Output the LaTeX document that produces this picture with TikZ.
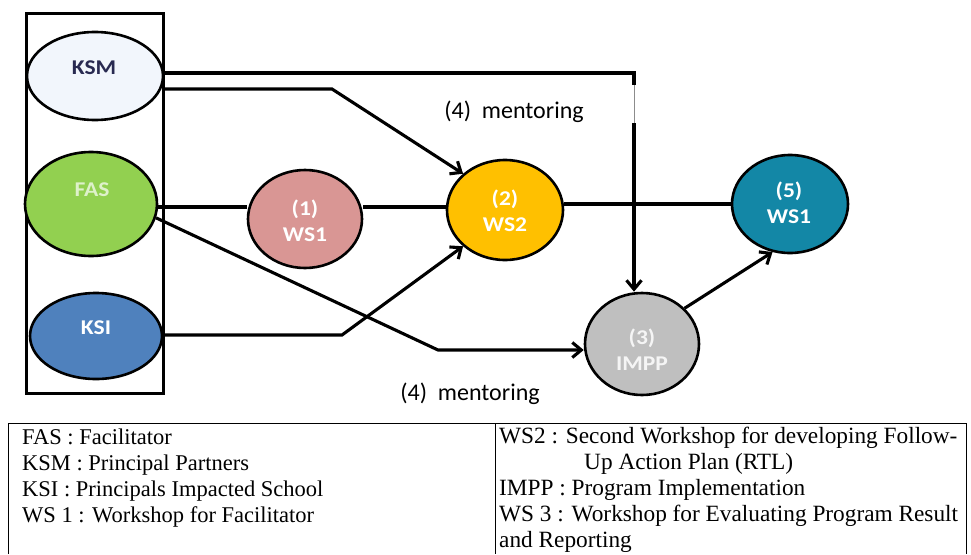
\documentclass[tikz,border=0pt]{standalone}
\usepackage{fontspec}
\setmainfont{Liberation Serif}
\newfontfamily\calfont{Carlito}
\newfontfamily\calbold[FakeStretch=1.12]{Carlito Bold}
\usetikzlibrary{arrows.meta,shapes.geometric}
\definecolor{ksmc}{HTML}{F2F6FC}
\definecolor{fasc}{HTML}{92D050}
\definecolor{ksic}{HTML}{4F81BD}
\definecolor{wsac}{HTML}{D99694}
\definecolor{wsbc}{HTML}{FFC000}
\definecolor{wscc}{HTML}{1387A6}
\definecolor{imppc}{HTML}{BFBFBF}
\tikzset{
  bub/.style={ellipse, draw=black, line width=2.6pt, inner sep=0pt},
  conn/.style={line width=3.1pt, line join=miter},
  arr/.style={conn, -{Straight Barb[length=9pt,width=15pt,line width=3.1pt]}},
  lbl/.style={font=\calbold\fontsize{21}{26}\selectfont, text=white, align=center},
  ment/.style={font=\calfont\fontsize{24}{28}\selectfont},
  leg/.style={font=\fontsize{22.5}{26}\selectfont, anchor=north west, align=left, inner sep=0pt},
}
\begin{document}
\begin{tikzpicture}[x=1pt,y=-1pt]
\useasboundingbox (0,0) rectangle (971,554);
% left frame
\draw[line width=3pt] (26,13) rectangle (163,393);
% bubbles
\node[bub, fill=ksmc, minimum width=136pt, minimum height=88pt] (ksm) at (95,76) {};
\node[bub, fill=fasc, minimum width=132pt, minimum height=104pt] (fas) at (91,204) {};
\node[bub, fill=ksic, minimum width=132pt, minimum height=86pt] (ksi) at (96,336) {};
\node[bub, fill=wsac, minimum width=114pt, minimum height=98pt] (ws1) at (305,219) {};
\node[bub, fill=wsbc, minimum width=116pt, minimum height=100pt] (ws2) at (505,210) {};
\node[bub, fill=wscc, minimum width=116pt, minimum height=98pt] (ws5) at (790,204) {};
\node[bub, fill=imppc, minimum width=114pt, minimum height=102pt] (impp) at (642,344) {};
% bubble texts
\node[lbl, text=ksmc!20!black!85!blue] (tksm) at (94,68) {KSM};
\node[lbl, text=fasc!30!white] (tfas) at (92,190) {FAS};
\node[lbl] (tksi) at (96,328) {KSI};
\node[lbl] (tws1) at (305,221) {(1)\\WS1};
\node[lbl] (tws2) at (505,211) {(2)\\WS2};
\node[lbl] (tws5) at (789,203) {(5)\\WS1};
\node[lbl, text=white!92!gray] (timpp) at (642,350) {(3)\\IMPP};
% coordinates
\coordinate (a1) at (634,73);
\coordinate (a2) at (634,85);
\coordinate (a3) at (634,123);
\coordinate (b1) at (332,89);
\coordinate (c1) at (438,350);
\coordinate (d1) at (342,335);
% connectors
\draw[conn] (ksm.east |- a1) -- (a1) -- (a2);
\draw[line width=0.9pt, black!45] (a2) -- (a3);
\draw[arr] (a3) -- (impp.north -| a3);
\draw[arr] (ksm.east |- b1) -- (b1) -- (ws2.north west);
\draw[conn] (fas.east |- 0,207) -- (ws1.west |- 0,207);
\draw[conn] (ws1.east |- 0,207) -- (ws2.west |- 0,207);
\draw[conn] (ws2.east |- 0,204) -- (ws5.west |- 0,204);
\draw[arr] (fas.-12) -- (c1) -- (impp.west |- c1);
\draw[arr] (ksi.east |- d1) -- (d1) -- (ws2.south west);
\draw[arr] (impp.40) -- (ws5.-110);
% labels
\node[ment] (m1) at (514,112) {(4)\ \ mentoring};
\node[ment] (m2) at (470,394) {(4)\ \ mentoring};
% legend table
\draw[line width=0.9pt] (8,554) -- (8,423) -- (966,423) -- (966,554);
\draw[line width=0.9pt] (495,423) -- (495,554);
\node[leg] (l1) at (22,429) {FAS : Facilitator\\KSM : Principal Partners\\KSI : Principals Impacted School\\WS 1 : Workshop for Facilitator};
\node[leg, font=\fontsize{23.3}{26}\selectfont] (r1) at (499,427) {WS2 : Second Workshop for developing Follow-\\\hspace*{85pt}Up Action Plan (RTL)\\IMPP : Program Implementation\\WS 3 : Workshop for Evaluating Program Result\\and Reporting};
\end{tikzpicture}
\end{document}
